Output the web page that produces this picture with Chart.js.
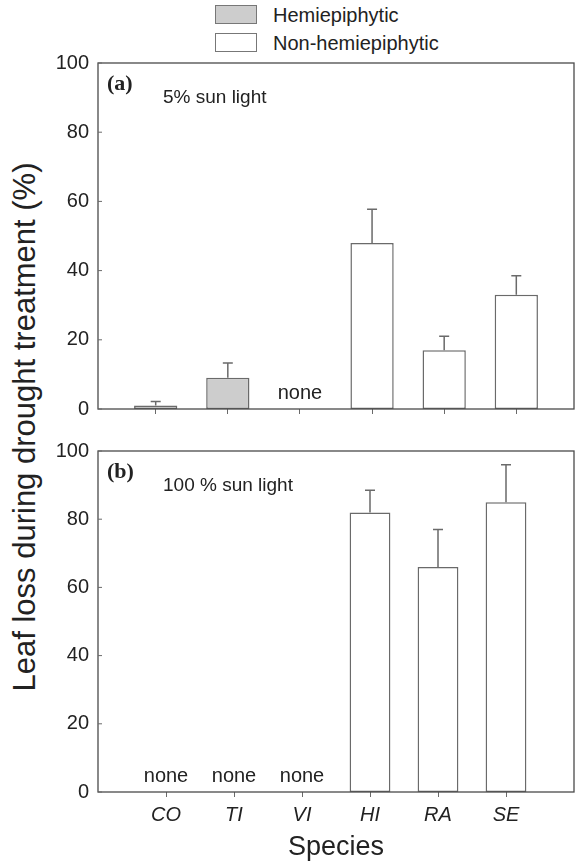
<!DOCTYPE html>
<html>
<head>
<meta charset="utf-8">
<script src="https://cdn.jsdelivr.net/npm/chart.js@4"></script>
<style>
  body { margin: 0; background: #fff; font-family: "Liberation Sans", Arial, sans-serif; color: #222; }
  #page { position: relative; width: 575px; height: 868px; overflow: hidden; }
  .panel { position: absolute; left: 0; width: 575px; }
  .legend-row { position: absolute; left: 215px; height: 20px; font-size: 20px; line-height: 20px; }
  .legend-row .box { position: absolute; left: 0; top: 0; width: 40px; height: 17px; border: 1.5px solid #777; }
  .legend-row span { position: absolute; left: 58px; top: 0; white-space: nowrap; }
  #yTitle { position: absolute; left: 25px; top: 427px; transform: translate(-50%, -50%) rotate(-90deg); font-size: 31px; white-space: nowrap; }
</style>
</head>
<body>
<div id="page">
  <div id="legend"></div>
  <div id="yTitle">Leaf loss during drought treatment (%)</div>
  <div class="panel" style="top:0;height:430px"><canvas id="shadeChart"></canvas></div>
  <div class="panel" style="top:430px;height:438px"><canvas id="sunChart"></canvas></div>
</div>
<script>
/* Data */
const species = ["CO", "TI", "VI", "HI", "RA", "SE"];
const hemiepiphytic = [true, true, true, false, false, false];
const groupLabels = ["Hemiepiphytic", "Non-hemiepiphytic"];

// (a) 5% sun light: mean and upper error (SE)
const shadeMean = [1, 9, null, 48, 17, 33];
const shadeErr = [1.2, 4.3, null, 9.7, 4, 5.5];

// (b) 100% sun light
const sunMean = [null, null, null, 82, 66, 85];
const sunErr = [null, null, null, 6.5, 11, 11];

const yTicks = [0, 20, 40, 60, 80, 100];

const hemiFill = "#cdcdcd";
const openFill = "#ffffff";
const edgeColor = "#6a6a6a";
const frameColor = "#4a4a4a";

Chart.defaults.font.family = '"Liberation Sans", Arial, sans-serif';
Chart.defaults.color = "#222";

/* Build the html legend */
const legend = document.getElementById("legend");
[hemiFill, openFill].forEach((c, i) => {
  const row = document.createElement("div");
  row.className = "legend-row";
  row.style.top = (5 + i * 28) + "px";
  row.innerHTML = '<div class="box" style="background:' + c + '"></div><span>' + groupLabels[i] + "</span>";
  legend.appendChild(row);
});

// split one series into the two groups, positioned at 1..6 on a linear axis
function makeDatasets(means) {
  return groupLabels.map((label, g) => ({
    label: label,
    data: species.map((s, i) => ({
      x: i + 1,
      y: (hemiepiphytic[i] === (g === 0)) ? means[i] : null
    })),
    backgroundColor: g === 0 ? hemiFill : openFill,
    borderColor: edgeColor,
    borderWidth: 1.5,
    borderSkipped: false,
    grouped: false,
    categoryPercentage: 1,
    barPercentage: 0.6
  }));
}

/* Frame, inward y ticks, error bars, "none" notes and panel labels */
const extras = {
  id: "extras",
  afterDatasetsDraw(chart, args, opts) {
    const c = chart.ctx;
    const area = chart.chartArea;
    const xs = chart.scales.x;
    const ys = chart.scales.y;
    c.save();

    // error bars (upper only)
    c.strokeStyle = edgeColor;
    c.lineWidth = 1.5;
    opts.means.forEach((m, i) => {
      if (m === null) return;
      const x = xs.getPixelForValue(i + 1);
      const y0 = ys.getPixelForValue(m);
      const y1 = ys.getPixelForValue(m + opts.errs[i]);
      c.beginPath();
      c.moveTo(x, y0);
      c.lineTo(x, y1);
      c.moveTo(x - 5, y1);
      c.lineTo(x + 5, y1);
      c.stroke();
    });

    // frame
    c.strokeStyle = frameColor;
    c.lineWidth = 1.3;
    c.strokeRect(area.left, area.top, area.right - area.left, area.bottom - area.top);

    // y ticks pointing inward
    c.strokeStyle = edgeColor;
    c.lineWidth = 1;
    yTicks.forEach((v) => {
      const y = ys.getPixelForValue(v);
      c.beginPath();
      c.moveTo(area.left, y);
      c.lineTo(area.left + 4, y);
      c.stroke();
    });

    // "none" where a species had no value
    c.fillStyle = "#222";
    c.font = '20px "Liberation Sans", Arial, sans-serif';
    c.textAlign = "center";
    c.textBaseline = "middle";
    opts.means.forEach((m, i) => {
      if (m !== null) return;
      c.fillText("none", xs.getPixelForValue(i + 1), ys.getPixelForValue(0) - 16);
    });

    // panel tag and light level
    c.textAlign = "left";
    c.font = 'bold 22px "Liberation Serif", "Times New Roman", serif';
    c.fillText(opts.tag, area.left + 9, area.top + 21);
    c.font = '19px "Liberation Sans", Arial, sans-serif';
    c.fillText(opts.note, area.left + 65, area.top + 35);
    c.restore();
  }
};

function chartSetup(canvasId, means, errs, opts) {
  return new Chart(document.getElementById(canvasId), {
    type: "bar",
    data: { datasets: makeDatasets(means) },
    options: {
      responsive: true,
      maintainAspectRatio: false,
      animation: false,
      layout: { padding: { top: opts.padTop, right: 1, left: 0, bottom: 0 } },
      plugins: {
        legend: { display: false },
        tooltip: { enabled: false },
        extras: { means: means, errs: errs, tag: opts.tag, note: opts.note }
      },
      scales: {
        x: {
          type: "linear",
          offset: false,
          min: opts.xMin,
          max: opts.xMax,
          afterBuildTicks: (scale) => {
            scale.ticks = species.map((s, i) => ({ value: i + 1 }));
          },
          afterFit: (scale) => { scale.height = opts.xHeight; },
          border: { display: false },
          grid: { offset: false, drawOnChartArea: false, drawTicks: true, tickLength: 5, color: edgeColor },
          ticks: {
            display: opts.showLabels,
            padding: 6,
            font: { size: 20, style: "italic" },
            callback: (v) => species[v - 1]
          },
          title: {
            display: opts.showLabels,
            text: "Species",
            font: { size: 27, lineHeight: 1.2 },
            padding: { top: 4, bottom: 4 }
          }
        },
        y: {
          min: 0,
          max: 100,
          afterBuildTicks: (scale) => {
            scale.ticks = yTicks.map((v) => ({ value: v }));
          },
          afterFit: (scale) => { scale.width = 98; },
          border: { display: false },
          grid: { display: false, drawTicks: false },
          ticks: { padding: 9, font: { size: 20 } }
        }
      }
    },
    plugins: [extras]
  });
}

chartSetup("shadeChart", shadeMean, shadeErr, {
  padTop: 63, xHeight: 17, xMin: 0.2, xMax: 6.8, showLabels: false,
  tag: "(a)", note: "5% sun light"
});
chartSetup("sunChart", sunMean, sunErr, {
  padTop: 12, xHeight: 76, xMin: 0, xMax: 7, showLabels: true,
  tag: "(b)", note: "100 % sun light"
});
</script>
</body>
</html>
